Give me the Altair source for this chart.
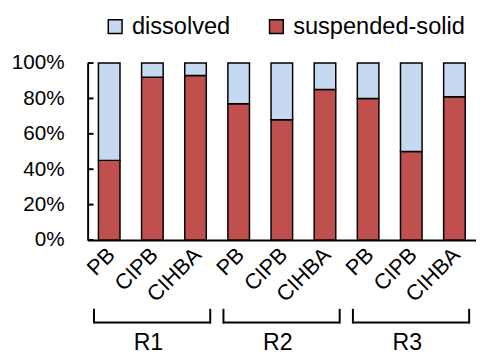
import altair as alt
import pandas as pd

groups = ["R1", "R2", "R3"]
methods = ["PB", "CIPB", "CIHBA"]
suspended_solid = [45, 92, 93, 77, 68, 85, 80, 50, 81]
dissolved = [55, 8, 7, 23, 32, 15, 20, 50, 19]
y_ticks = [0, 0.2, 0.4, 0.6, 0.8, 1.0]
series = ["dissolved", "suspended-solid"]
colors = ["#c6d9f1", "#c0504d"]

keys = [f"{g}|{m}" for g in groups for m in methods]
rows = []
for i, k in enumerate(keys):
    rows.append({"key": k, "series": "suspended-solid", "value": suspended_solid[i], "ord": 0})
    rows.append({"key": k, "series": "dissolved", "value": dissolved[i], "ord": 1})
bars_df = pd.DataFrame(rows)
grp_df = pd.DataFrame({
    "group": groups,
    "first": [f"{g}|{methods[0]}" for g in groups],
    "mid": [f"{g}|{methods[1]}" for g in groups],
    "last": [f"{g}|{methods[2]}" for g in groups],
})
tick_df = pd.DataFrame({"t": y_ticks})

xscale = alt.Scale(domain=keys, paddingInner=0.5, paddingOuter=0.25)
yscale = alt.Scale(domain=[0, 1], nice=False)

xaxis = alt.Axis(title=None, labelAngle=-45,
                 labelExpr="split(datum.label, '|')[1]",
                 ticks=False, tickSize=0, labelFontSize=22,
                 labelPadding=4, labelOffset=-5, domainColor="black", domainWidth=2,
                 labelColor="black")
yaxis = alt.Axis(title=None, values=y_ticks, format=".0%", ticks=False,
                 tickSize=0, labelFontSize=21, labelPadding=24, grid=False,
                 domainColor="black", domainWidth=2, labelColor="black")

bars = alt.Chart(bars_df).mark_bar(stroke="black", strokeWidth=1.5).encode(
    x=alt.X("key:N", scale=xscale, sort=keys, axis=xaxis),
    y=alt.Y("value:Q", stack="normalize", scale=yscale, axis=yaxis),
    color=alt.Color("series:N", scale=alt.Scale(domain=series, range=colors),
                    legend=alt.Legend(title=None, orient="none", legendX=16, legendY=-49,
                                      direction="horizontal", symbolType="square",
                                      symbolSize=196, symbolStrokeColor="black",
                                      symbolStrokeWidth=1.5, labelFontSize=24,
                                      labelOffset=5, columnPadding=34, padding=0,
                                      labelLimit=0, labelColor="black")),
    order=alt.Order("ord:Q"),
)

yticks = alt.Chart(tick_df).mark_rule(color="black", strokeWidth=2).encode(
    y=alt.Y("t:Q", scale=yscale, axis=yaxis),
    x=alt.value(0),
    x2=alt.value(6),
)

br_h = alt.Chart(grp_df).mark_rule(color="black", strokeWidth=2, xOffset=-4.5, x2Offset=4).encode(
    x=alt.X("first:N", scale=xscale, axis=xaxis, bandPosition=0),
    x2=alt.X2("last:N", bandPosition=1),
    y=alt.value(264),
)
br_l = alt.Chart(grp_df).mark_rule(color="black", strokeWidth=2, xOffset=-4.5).encode(
    x=alt.X("first:N", scale=xscale, axis=xaxis, bandPosition=0),
    y=alt.value(250),
    y2=alt.value(265),
)
br_r = alt.Chart(grp_df).mark_rule(color="black", strokeWidth=2, xOffset=4).encode(
    x=alt.X("last:N", scale=xscale, axis=xaxis, bandPosition=1),
    y=alt.value(250),
    y2=alt.value(265),
)
labels = alt.Chart(grp_df).mark_text(fontSize=23.5, baseline="alphabetic", dx=-4, color="black").encode(
    x=alt.X("mid:N", scale=xscale, axis=xaxis, bandPosition=0.5),
    y=alt.value(292),
    text="group:N",
)

chart = alt.layer(bars, yticks, br_h, br_l, br_r, labels).properties(
    width=395, height=180,
    autosize=alt.AutoSizeParams(type="none"),
    padding={"left": 81, "top": 53, "right": 0, "bottom": 116},
).configure(font="Liberation Sans").configure_view(stroke=None)

chart.save("out.html", embed_options={"renderer": "svg", "actions": False})
